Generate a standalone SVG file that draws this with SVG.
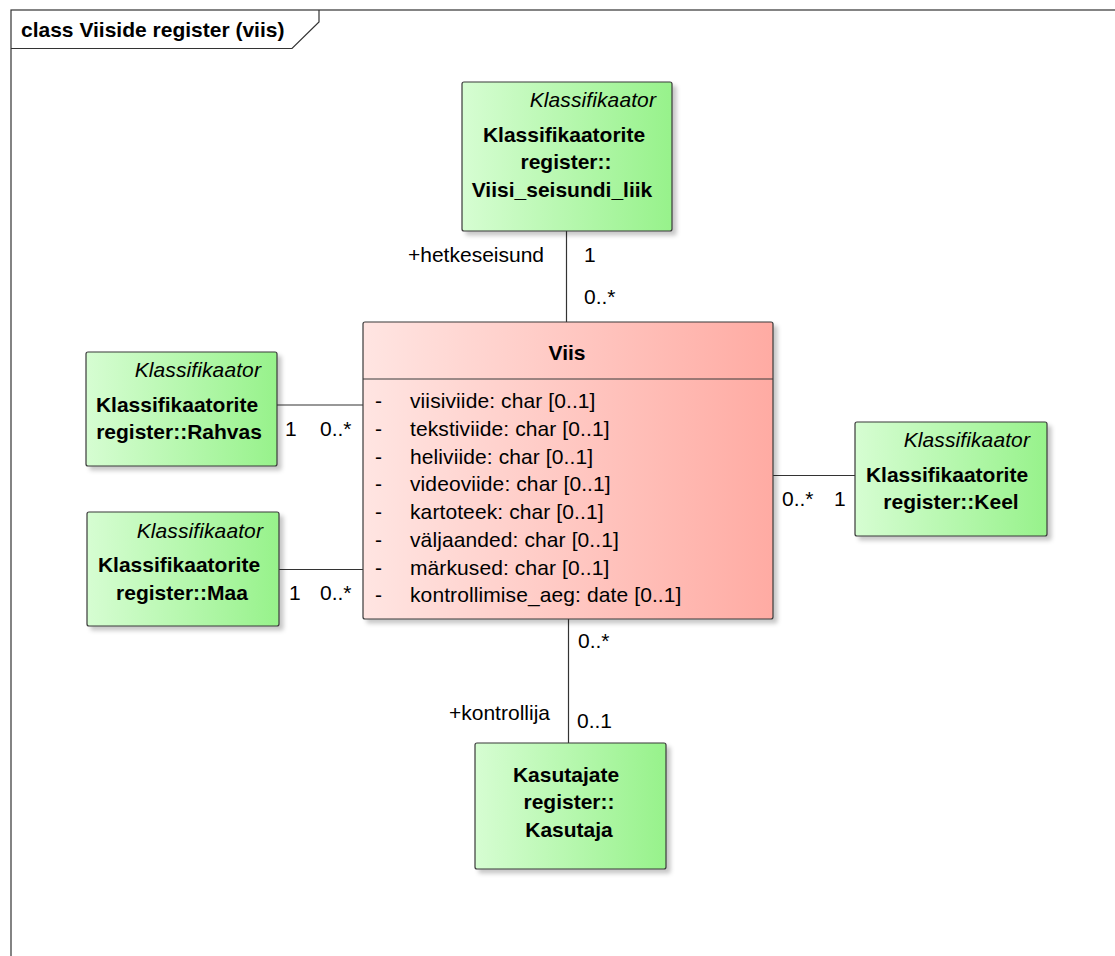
<svg xmlns="http://www.w3.org/2000/svg" width="1115" height="956" viewBox="0 0 1115 956">
  <defs>
    <linearGradient id="gGreen" x1="0" y1="0" x2="1" y2="0">
      <stop offset="0" stop-color="#d6fdd2"/>
      <stop offset="1" stop-color="#97f28b"/>
    </linearGradient>
    <linearGradient id="gPink" x1="0" y1="0" x2="1" y2="0">
      <stop offset="0" stop-color="#ffe5e2"/>
      <stop offset="1" stop-color="#ffaba3"/>
    </linearGradient>
    <filter id="shadow" x="-10%" y="-10%" width="130%" height="130%">
      <feDropShadow dx="4" dy="4" stdDeviation="2" flood-color="#000" flood-opacity="0.22"/>
    </filter>
  </defs>
  <style>
    text { font-family: "Liberation Sans", Arial, sans-serif; font-size: 21px; fill: #000; }
    .b { font-weight: bold; }
    .r { letter-spacing: 0.1px; }
    .lbl { font-size: 20.5px; }
    .st { font-style: italic; letter-spacing: 0.1px; text-anchor: end; }
    .c { text-anchor: middle; }
    .box { stroke: #3a3a3a; stroke-width: 1.2; filter: url(#shadow); }
    .green { fill: url(#gGreen); }
    .pink { fill: url(#gPink); }
    .frame { fill: none; stroke: #333; stroke-width: 1.2; }
    .conn line { stroke: #333; stroke-width: 1.2; }
  </style>

  <rect width="1115" height="956" fill="#fff"/>

  <!-- diagram frame with name tab -->
  <g id="frame">
    <rect class="frame" x="11" y="10" width="1200" height="1000"/>
    <path class="frame" d="M11,48.5 H292 L319,22 V10"/>
    <text class="b" x="21" y="37">class Viiside register (viis)</text>
  </g>

  <!-- associations -->
  <g class="conn" id="connectors">
    <line x1="566.5" y1="231" x2="566.5" y2="322"/>
    <line x1="277" y1="405" x2="363" y2="405"/>
    <line x1="279" y1="569.5" x2="363" y2="569.5"/>
    <line x1="773" y1="475.5" x2="855" y2="475.5"/>
    <line x1="568.5" y1="619" x2="568.5" y2="743"/>
  </g>

  <!-- association end labels -->
  <g id="labels" class="lbl">
    <text x="408" y="262">+hetkeseisund</text>
    <text x="584" y="262">1</text>
    <text x="584" y="304">0..*</text>
    <text x="285" y="436">1</text>
    <text x="320" y="436">0..*</text>
    <text x="289" y="600">1</text>
    <text x="320" y="600">0..*</text>
    <text x="782" y="506">0..*</text>
    <text x="834" y="506">1</text>
    <text x="578" y="648">0..*</text>
    <text x="449" y="720">+kontrollija</text>
    <text x="577" y="728">0..1</text>
  </g>

  <g id="viisi_seisundi_liik">
    <rect class="box green" x="462" y="82" width="210" height="149" rx="2"/>
    <text class="st" x="656" y="107">Klassifikaator</text>
    <text class="b c" x="564" y="141.5">Klassifikaatorite</text>
    <text class="b c" x="566" y="169">register::</text>
    <text class="b c" x="562" y="196.5">Viisi_seisundi_liik</text>
  </g>

  <g id="rahvas">
    <rect class="box green" x="86" y="352" width="191" height="114" rx="2"/>
    <text class="st" x="261" y="377">Klassifikaator</text>
    <text class="b c" x="177" y="411.5">Klassifikaatorite</text>
    <text class="b c" x="179" y="439">register::Rahvas</text>
  </g>

  <g id="maa">
    <rect class="box green" x="87" y="512" width="192" height="114" rx="2"/>
    <text class="st" x="263" y="538">Klassifikaator</text>
    <text class="b c" x="179" y="572">Klassifikaatorite</text>
    <text class="b c" x="182" y="600">register::Maa</text>
  </g>

  <g id="keel">
    <rect class="box green" x="855" y="422" width="192" height="114" rx="2"/>
    <text class="st" x="1030" y="447">Klassifikaator</text>
    <text class="b c" x="947" y="481.5">Klassifikaatorite</text>
    <text class="b c" x="951" y="509">register::Keel</text>
  </g>

  <g id="kasutaja">
    <rect class="box green" x="475" y="743" width="191" height="126" rx="2"/>
    <text class="b c" x="566" y="781.5">Kasutajate</text>
    <text class="b c" x="569" y="809">register::</text>
    <text class="b c" x="569" y="836.5">Kasutaja</text>
  </g>

  <g id="viis">
    <rect class="box pink" x="363" y="322" width="410" height="297" rx="2"/>
    <line x1="363" y1="379" x2="773" y2="379" stroke="#3a3a3a" stroke-width="1.2"/>
    <text class="b c" x="567" y="360">Viis</text>
    <g class="r">
      <text x="375" y="408">-</text>
      <text x="410" y="408">viisiviide: char [0..1]</text>
      <text x="375" y="436">-</text>
      <text x="410" y="436">tekstiviide: char [0..1]</text>
      <text x="375" y="463.5">-</text>
      <text x="410" y="463.5">heliviide: char [0..1]</text>
      <text x="375" y="491">-</text>
      <text x="410" y="491">videoviide: char [0..1]</text>
      <text x="375" y="519">-</text>
      <text x="410" y="519">kartoteek: char [0..1]</text>
      <text x="375" y="547">-</text>
      <text x="410" y="547">väljaanded: char [0..1]</text>
      <text x="375" y="574.5">-</text>
      <text x="410" y="574.5">märkused: char [0..1]</text>
      <text x="375" y="602">-</text>
      <text x="410" y="602">kontrollimise_aeg: date [0..1]</text>
    </g>
  </g>
</svg>
